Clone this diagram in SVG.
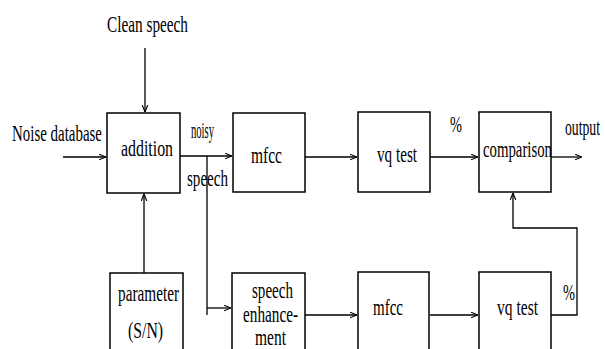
<svg xmlns="http://www.w3.org/2000/svg" width="605" height="349" viewBox="0 0 605 349">
<style>
.box{fill:#fff;stroke:#000;stroke-width:1.5}
.ln{fill:none;stroke:#000;stroke-width:1.3}
text{font-family:"Liberation Serif","Times New Roman",serif;font-size:23px;fill:#000}
</style>
<defs>
<marker id="ah" viewBox="0 0 10 10" refX="10" refY="5" markerWidth="7" markerHeight="7" markerUnits="userSpaceOnUse" orient="auto">
<path d="M0,1 L10,5 L0,9" fill="none" stroke="#000" stroke-width="1.6"/>
</marker>
</defs>
<rect width="605" height="349" fill="#fff"/>
<g id="connectors">
<line class="ln" x1="145" y1="48" x2="145" y2="112" marker-end="url(#ah)"/>
<line class="ln" x1="63" y1="157" x2="106" y2="157" marker-end="url(#ah)"/>
<line class="ln" x1="180" y1="156" x2="232" y2="156" marker-end="url(#ah)"/>
<line class="ln" x1="305" y1="157" x2="357" y2="157" marker-end="url(#ah)"/>
<line class="ln" x1="430" y1="157" x2="478" y2="157" marker-end="url(#ah)"/>
<line class="ln" x1="551" y1="157" x2="582" y2="157" marker-end="url(#ah)"/>
<line class="ln" x1="144" y1="273" x2="144" y2="194" marker-end="url(#ah)"/>
<polyline class="ln" points="207,156 207,315"/>
<line class="ln" x1="207" y1="308" x2="231" y2="308" marker-end="url(#ah)"/>
<line class="ln" x1="305" y1="315" x2="357" y2="315" marker-end="url(#ah)"/>
<line class="ln" x1="430" y1="315" x2="478" y2="315" marker-end="url(#ah)"/>
<polyline class="ln" points="551,315 577,315 577,228 513,228 513,193" marker-end="url(#ah)"/>
</g>
<g id="clean"><text x="107" y="32" textLength="81" lengthAdjust="spacingAndGlyphs">Clean speech</text></g>
<g id="noise"><text x="12" y="141" textLength="90" lengthAdjust="spacingAndGlyphs">Noise database</text></g>
<g id="addition"><rect class="box" x="107" y="113" width="73" height="80"/><text x="121" y="156" textLength="52" lengthAdjust="spacingAndGlyphs">addition</text></g>
<g id="noisy-label"><text x="191" y="138" textLength="23" lengthAdjust="spacingAndGlyphs">noisy</text><text x="187" y="186" textLength="41" lengthAdjust="spacingAndGlyphs">speech</text></g>
<g id="mfcc1"><rect class="box" x="233" y="113" width="72" height="79"/><text x="251" y="163" textLength="31" lengthAdjust="spacingAndGlyphs">mfcc</text></g>
<g id="vq1"><rect class="box" x="358" y="112" width="72" height="80"/><text x="377" y="162" textLength="40" lengthAdjust="spacingAndGlyphs">vq test</text></g>
<g id="pct1"><text x="450" y="132" textLength="12" lengthAdjust="spacingAndGlyphs">%</text></g>
<g id="comparison"><rect class="box" x="479" y="112" width="72" height="80"/><text x="483" y="157" textLength="69" lengthAdjust="spacingAndGlyphs">comparison</text></g>
<g id="output"><text x="565" y="135" textLength="35" lengthAdjust="spacingAndGlyphs">output</text></g>
<g id="parameter"><rect class="box" x="110" y="273" width="73" height="82"/><text x="118" y="301" textLength="61" lengthAdjust="spacingAndGlyphs">parameter</text><text x="128" y="338" textLength="35" lengthAdjust="spacingAndGlyphs">(S/N)</text></g>
<g id="enhance"><rect class="box" x="232" y="273" width="73" height="82"/><text x="252" y="298" textLength="41" lengthAdjust="spacingAndGlyphs">speech</text><text x="243" y="322" textLength="55" lengthAdjust="spacingAndGlyphs">enhance-</text><text x="255" y="345" textLength="31" lengthAdjust="spacingAndGlyphs">ment</text></g>
<g id="mfcc2"><rect class="box" x="358" y="272" width="71" height="83"/><text x="373" y="315" textLength="30" lengthAdjust="spacingAndGlyphs">mfcc</text></g>
<g id="vq2"><rect class="box" x="479" y="272" width="72" height="83"/><text x="497" y="315" textLength="41" lengthAdjust="spacingAndGlyphs">vq test</text></g>
<g id="pct2"><text x="563" y="300" textLength="12" lengthAdjust="spacingAndGlyphs">%</text></g>
</svg>
